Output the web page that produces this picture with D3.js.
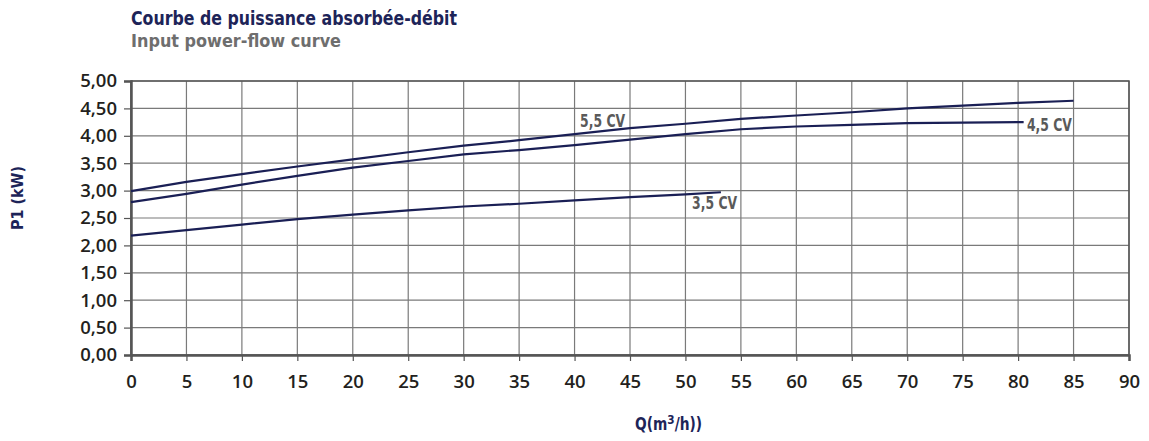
<!DOCTYPE html>
<html>
<head>
<meta charset="utf-8">
<script src="https://cdn.jsdelivr.net/npm/d3@7"></script>
<style>
  body { margin: 0; background: #fff; }
  .cond { font-family: "Liberation Sans Narrow", "DejaVu Sans Condensed", "Roboto Condensed", sans-serif; font-weight: bold; font-stretch: condensed; }
  .tick text { font-family: "Open Sans", "Noto Sans", sans-serif; font-weight: 600; fill: #231f20; }
</style>
</head>
<body>
<svg id="chart" width="1149" height="441"></svg>
<script>
// flow (m3/h) and absorbed power (kW) per motor
const q55 = [0, 5, 10, 15, 20, 25, 30, 35, 40, 45, 50, 55, 60, 65, 70, 75, 80, 85];
const p55 = [2.99, 3.16, 3.30, 3.44, 3.57, 3.70, 3.82, 3.92, 4.03, 4.14, 4.22, 4.31, 4.37, 4.43, 4.50, 4.55, 4.60, 4.64];

const q45 = [0, 5, 10, 15, 20, 25, 30, 35, 40, 45, 50, 55, 60, 65, 70, 75, 80.5];
const p45 = [2.79, 2.94, 3.11, 3.27, 3.42, 3.54, 3.66, 3.74, 3.83, 3.93, 4.03, 4.12, 4.17, 4.20, 4.23, 4.24, 4.25];

const q35 = [0, 5, 10, 15, 20, 25, 30, 35, 40, 45, 50, 53.2];
const p35 = [2.18, 2.28, 2.38, 2.48, 2.56, 2.64, 2.71, 2.76, 2.82, 2.88, 2.93, 2.97];

const xTicks = [0, 5, 10, 15, 20, 25, 30, 35, 40, 45, 50, 55, 60, 65, 70, 75, 80, 85, 90];
const yTicks = [0, 0.5, 1, 1.5, 2, 2.5, 3, 3.5, 4, 4.5, 5];

// curve labels, anchored in data units
const curveLabels = [
  { text: "5,5 CV", q: 40.5, p: 4.16 },
  { text: "4,5 CV", q: 80.8, p: 4.09 },
  { text: "3,5 CV", q: 50.6, p: 2.67 }
];

const svg = d3.select("#chart");
const mLeft = 131, mRight = 1129, mTop = 81, mBottom = 355;

const x = d3.scaleLinear().domain([0, 90]).range([mLeft, mRight]);
const y = d3.scaleLinear().domain([0, 5]).range([mBottom, mTop]);

// title
svg.append("text")
  .attr("class", "cond")
  .attr("x", 131).attr("y", 25)
  .attr("font-size", 19)
  .attr("fill", "#1d2458")
  .attr("textLength", 326).attr("lengthAdjust", "spacingAndGlyphs")
  .text("Courbe de puissance absorbée-débit");

svg.append("text")
  .attr("class", "cond")
  .attr("x", 131).attr("y", 47)
  .attr("font-size", 18)
  .attr("fill", "#6e6e6e")
  .attr("textLength", 210).attr("lengthAdjust", "spacingAndGlyphs")
  .text("Input power-flow curve");

// grid
const grid = svg.append("g");
grid.selectAll(".vg").data(xTicks).join("line")
  .attr("x1", d => x(d)).attr("x2", d => x(d))
  .attr("y1", mTop).attr("y2", mBottom)
  .attr("stroke", "#7a7a7a").attr("stroke-width", 1.2);
grid.selectAll(".hg").data(yTicks).join("line")
  .attr("x1", mLeft).attr("x2", mRight)
  .attr("y1", d => y(d)).attr("y2", d => y(d))
  .attr("stroke", "#7a7a7a").attr("stroke-width", 1.2);

// frame
svg.append("rect")
  .attr("x", mLeft).attr("y", mTop)
  .attr("width", mRight - mLeft).attr("height", mBottom - mTop)
  .attr("fill", "none").attr("stroke", "#555").attr("stroke-width", 1.5);

// axes
const xAxis = svg.append("g")
  .attr("transform", `translate(0,${mBottom})`)
  .call(d3.axisBottom(x).tickValues(xTicks).tickSize(6).tickPadding(14).tickFormat(d3.format("d")));
xAxis.select(".domain").attr("stroke", "#555").attr("stroke-width", 2.5);
xAxis.selectAll(".tick line").attr("stroke", "#555").attr("stroke-width", 1.2);
xAxis.selectAll(".tick text").attr("font-size", 18.5);

const yAxis = svg.append("g")
  .attr("transform", `translate(${mLeft},0)`)
  .call(d3.axisLeft(y).tickValues(yTicks).tickSize(7).tickPadding(7)
    .tickFormat(d => d3.format(".2f")(d).replace(".", ",")));
yAxis.select(".domain").attr("stroke", "#555").attr("stroke-width", 2.5);
yAxis.selectAll(".tick line").attr("stroke", "#555").attr("stroke-width", 1.2);
yAxis.selectAll(".tick text").attr("font-size", 18.5);

// curves
const line = d3.line().x(d => x(d[0])).y(d => y(d[1]));
[[q55, p55], [q45, p45], [q35, p35]].forEach(([qs, ps]) => {
  svg.append("path")
    .datum(qs.map((q, i) => [q, ps[i]]))
    .attr("d", line)
    .attr("fill", "none")
    .attr("stroke", "#1a1f55")
    .attr("stroke-width", 2.2);
});

svg.selectAll(".clabel").data(curveLabels).join("text")
  .attr("class", "cond")
  .attr("x", d => x(d.q)).attr("y", d => y(d.p))
  .attr("font-size", 17)
  .attr("fill", "#5a5a5a")
  .attr("textLength", 45).attr("lengthAdjust", "spacingAndGlyphs")
  .text(d => d.text);

// axis titles
const xt = svg.append("text")
  .attr("class", "cond")
  .attr("transform", "translate(635,430) scale(0.9,1)")
  .attr("font-size", 17)
  .attr("fill", "#1d2458");
xt.append("tspan").text("Q(m");
xt.append("tspan").attr("dy", -6).attr("font-size", 13).text("3");
xt.append("tspan").attr("dy", 6).text("/h))");

svg.append("text")
  .attr("class", "cond")
  .attr("transform", "translate(23,198) rotate(-90)")
  .attr("text-anchor", "middle")
  .attr("font-size", 16)
  .attr("fill", "#1d2458")
  .text("P1 (kW)");
</script>
</body>
</html>
